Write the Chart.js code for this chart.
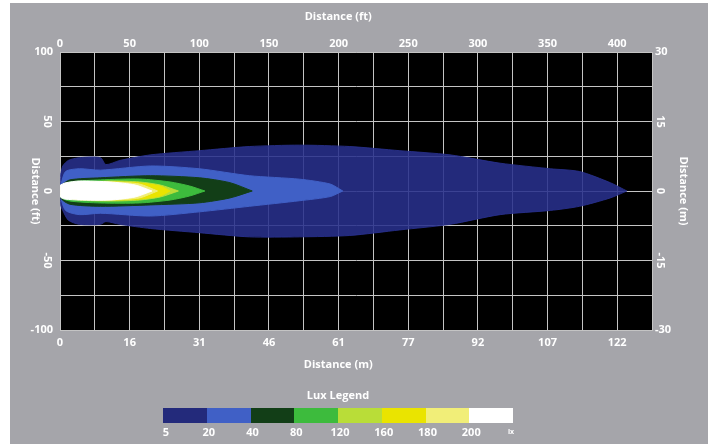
<!DOCTYPE html>
<html>
<head>
<meta charset="utf-8">
<script src="https://cdn.jsdelivr.net/npm/chart.js@4.4.1/dist/chart.umd.min.js"></script>
<style>
  html, body { margin: 0; padding: 0; background: #fff; }
  #wrap { position: relative; width: 708px; height: 444px; overflow: hidden; }
  #panel { position: absolute; left: 10px; top: 3px; right: 0; bottom: 0; background: #a5a5aa; }
  #chart { position: absolute; left: 0; top: 0; }
  #legend { position: absolute; left: 163px; top: 388px; width: 350px; color: #fff;
            font: bold 11px "Open Sans", sans-serif; }
  #legendTitle { text-align: center; height: 14px; line-height: 14px; }
  #legendBar { display: flex; margin-top: 6px; height: 15px; }
  #legendBar div { flex: 1; }
  #legendLabels { position: relative; height: 14px; margin-top: 2px; }
  #legendLabels span { position: absolute; top: 0; transform: translateX(-50%); line-height: 14px; }
  #legendLabels .unit { font-size: 7px; }
</style>
</head>
<body>
<div id="wrap">
  <div id="panel"></div>
  <canvas id="chart" width="708" height="444"></canvas>
  <div id="legend">
    <div id="legendTitle">Lux Legend</div>
    <div id="legendBar"></div>
    <div id="legendLabels"></div>
  </div>
</div>
<script>
  // tick labels
  const xTicksFt = [0, 50, 100, 150, 200, 250, 300, 350, 400];
  const xTicksM = ['0', '16', '31', '46', '61', '77', '92', '107', '122'];
  const yTicksFt = [100, 50, 0, -50, -100];
  const yTicksM = ['30', '15', '0', '-15', '-30'];

  // lux legend
  const luxLevels = ['5', '20', '40', '80', '120', '160', '180', '200'];
  const luxColors = ['#232a7b', '#4060c6', '#123e17', '#3dbb3d', '#b9dd38', '#eae400', '#f1ee78', '#ffffff'];

  // isolux outlines (ft): distance along beam, upper edge, lower edge
  const lux5X = [0.5, 2, 6, 14, 29, 33, 43, 65, 100, 136, 172, 208, 244, 280, 316, 352, 373, 395, 407];
  const lux5Top = [12, 18, 22, 24, 24, 19, 22, 26, 29, 32, 33, 32, 29, 26, 20, 16, 14, 6, 0];
  const lux5Bottom = [-10, -14, -21, -24, -24, -22, -24, -27, -30, -33, -33, -32, -28, -24, -17, -14, -11, -5, 0];

  const lux20X = [0.5, 4, 14, 29, 65, 100, 136, 172, 194, 203];
  const lux20Top = [4, 14, 16, 15, 18, 16, 11, 8.5, 5, 0];
  const lux20Bottom = [-4, -14, -17, -16, -18, -15, -11, -7, -4, 0];

  const lux40X = [0.5, 7, 29, 65, 100, 122, 138];
  const lux40Top = [4, 8, 9.5, 11, 9.5, 6, 0];
  const lux40Bottom = [-5, -9.5, -11, -10, -8.5, -5, 0];

  const lux80X = [0.5, 7, 29, 57, 79, 93, 104];
  const lux80Top = [3.6, 6.5, 8, 8.6, 6.5, 3.6, 0];
  const lux80Bottom = [-4.3, -7.2, -8.6, -8.6, -6.5, -3.6, 0];

  const lux120X = [0.5, 14, 36, 57, 72, 85];
  const lux120Top = [3.6, 5.8, 7.2, 6.5, 4.3, 0];
  const lux120Bottom = [-3.6, -6.5, -7.2, -6.5, -4.3, 0];

  const lux160X = [0.5, 14, 36, 57, 72, 79];
  const lux160Top = [3.6, 5.8, 6.5, 5.8, 3.6, 0];
  const lux160Bottom = [-3.6, -5.8, -6.5, -5.8, -3.6, 0];

  const lux180X = [0.5, 14, 36, 57, 70];
  const lux180Top = [3.6, 5.8, 6.5, 5, 0];
  const lux180Bottom = [-3.6, -5.8, -6.5, -5, 0];

  const lux200X = [0.3, 3.6, 14, 36, 54, 66];
  const lux200Top = [4.3, 5.8, 7.2, 6.5, 4.3, 0];
  const lux200Bottom = [-4.3, -5.8, -6.5, -6.5, -4.3, 0];

  const outlines = [
    [lux5X, lux5Top, lux5Bottom],
    [lux20X, lux20Top, lux20Bottom],
    [lux40X, lux40Top, lux40Bottom],
    [lux80X, lux80Top, lux80Bottom],
    [lux120X, lux120Top, lux120Bottom],
    [lux160X, lux160Top, lux160Bottom],
    [lux180X, lux180Top, lux180Bottom],
    [lux200X, lux200Top, lux200Bottom]
  ];

  function outline(xs, top, bottom) {
    const pts = xs.map((x, i) => ({ x: x, y: top[i] }));
    for (let i = xs.length - 1; i >= 0; i--) pts.push({ x: xs[i], y: bottom[i] });
    pts.push(pts[0]);
    return pts;
  }

  // legend
  const bar = document.getElementById('legendBar');
  const labs = document.getElementById('legendLabels');
  luxColors.forEach(c => { bar.innerHTML += `<div style="background:${c}"></div>`; });
  luxLevels.forEach((l, i) => {
    const left = i === 0 ? 3 : i * 350 / luxLevels.length + 2;
    labs.innerHTML += `<span style="left:${left}px">${l}</span>`;
  });
  labs.innerHTML += `<span class="unit" style="left:348px">lx</span>`;

  // the 5 lux layer lets the grid show through a little
  const fillColors = luxColors.slice();
  fillColors[0] = 'rgba(40,48,140,0.88)';

  // datasets drawn last-first, so brightest level goes first
  const datasets = outlines.map((o, i) => ({
    data: outline(o[0], o[1], o[2]),
    showLine: true,
    fill: 'shape',
    backgroundColor: fillColors[i],
    borderColor: fillColors[i],
    borderWidth: 1,
    pointRadius: 0,
    tension: 0.25
  })).reverse();

  const FONT = { family: '"Open Sans", sans-serif', size: 11, weight: 'bold' };
  const GRID = '#c4c4c4';

  function rotText(ctx, text, x, y) {
    ctx.save();
    ctx.translate(x, y);
    ctx.rotate(Math.PI / 2);
    ctx.fillText(text, 0, 0);
    ctx.restore();
  }

  const plotBg = {
    id: 'plotBg',
    beforeDraw(chart) {
      const a = chart.chartArea, ctx = chart.ctx;
      ctx.save();
      ctx.fillStyle = '#000';
      ctx.fillRect(a.left, a.top, a.right - a.left, a.bottom - a.top);
      ctx.restore();
    },
    afterDraw(chart) {
      const a = chart.chartArea, ctx = chart.ctx, y = chart.scales.y;
      ctx.save();
      ctx.fillStyle = '#fff';
      ctx.font = 'bold 11px "Open Sans", sans-serif';
      ctx.textAlign = 'center';
      ctx.textBaseline = 'middle';
      // middle side labels are turned like the axis titles
      yTicksFt.forEach((v, i) => {
        if (i === 0 || i === yTicksFt.length - 1) return;
        const py = y.getPixelForValue(v);
        rotText(ctx, String(v), a.left - 13, py);
        rotText(ctx, yTicksM[i], a.right + 8, py);
      });
      const tx = a.left + (a.right - a.left) * 0.47;
      const my = (a.top + a.bottom) / 2;
      ctx.fillText('Distance (ft)', tx, 17);
      ctx.fillText('Distance (m)', tx, 365);
      rotText(ctx, 'Distance (ft)', a.left - 25, my);
      rotText(ctx, 'Distance (m)', a.right + 31, my);
      ctx.restore();
    }
  };

  new Chart(document.getElementById('chart'), {
    type: 'scatter',
    data: { datasets: datasets },
    plugins: [plotBg],
    options: {
      responsive: false,
      animation: false,
      layout: { padding: 0 },
      plugins: { legend: { display: false }, tooltip: { enabled: false } },
      scales: {
        x: {
          type: 'linear', position: 'bottom', min: 0, max: 425,
          afterFit: s => { s.height = 114; },
          grid: { color: GRID, drawTicks: false },
          border: { color: GRID },
          ticks: {
            stepSize: 25, autoSkip: false, maxRotation: 0, padding: 6, color: '#fff', font: FONT,
            callback: v => { const i = xTicksFt.indexOf(v); return i >= 0 ? xTicksM[i] : ''; }
          }
        },
        x2: {
          type: 'linear', position: 'top', min: 0, max: 425,
          afterFit: s => { s.height = 52; },
          grid: { display: false, drawTicks: false },
          border: { color: GRID },
          ticks: {
            stepSize: 25, autoSkip: false, maxRotation: 0, padding: 2, color: '#fff', font: FONT,
            callback: v => (xTicksFt.indexOf(v) >= 0 ? String(v) : '')
          }
        },
        y: {
          type: 'linear', position: 'left', min: -100, max: 100,
          afterFit: s => { s.width = 60; },
          grid: { color: GRID, drawTicks: false },
          border: { color: GRID },
          ticks: {
            stepSize: 25, autoSkip: false, padding: 7, color: '#fff', font: FONT,
            callback: v => (v === yTicksFt[0] || v === yTicksFt[yTicksFt.length - 1] ? String(v) : '')
          }
        },
        y2: {
          type: 'linear', position: 'right', min: -100, max: 100,
          afterFit: s => { s.width = 56; },
          grid: { display: false, drawTicks: false },
          border: { color: GRID },
          ticks: {
            stepSize: 25, autoSkip: false, padding: 3, color: '#fff', font: FONT,
            callback: v => {
              if (v === yTicksFt[0]) return yTicksM[0];
              if (v === yTicksFt[yTicksFt.length - 1]) return yTicksM[yTicksM.length - 1];
              return '';
            }
          }
        }
      }
    }
  });
</script>
</body>
</html>
